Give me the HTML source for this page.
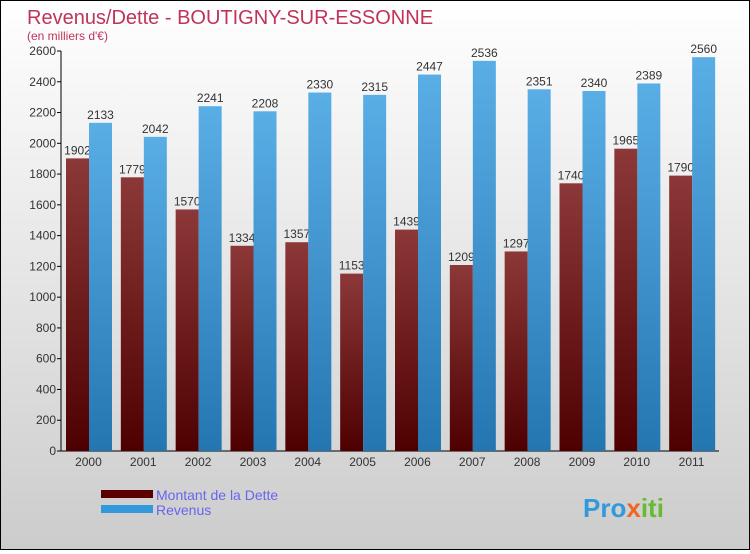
<!DOCTYPE html>
<html><head><meta charset="utf-8"><style>
body{margin:0;width:750px;height:550px;overflow:hidden;font-family:"Liberation Sans",sans-serif}
#c{position:absolute;left:0;top:0;width:748px;height:548px;border:1px solid #000;background:linear-gradient(#ffffff,#cccccc)}
</style></head><body>
<div id="c">
<svg id="s" width="748" height="548" xmlns="http://www.w3.org/2000/svg">
<defs>
<linearGradient id="gd" x1="0" y1="0" x2="0" y2="1"><stop offset="0" stop-color="#8c3838"/><stop offset="1" stop-color="#4e0000"/></linearGradient>
<linearGradient id="gr" x1="0" y1="0" x2="0" y2="1"><stop offset="0" stop-color="#5aaee6"/><stop offset="1" stop-color="#2476b0"/></linearGradient>
</defs>
<text x="26" y="23" font-size="20" fill="#c0335a">Revenus/Dette - BOUTIGNY-SUR-ESSONNE</text>
<text x="26" y="39" font-size="12" fill="#c0335a">(en milliers d'€)</text>
<g id="plot"></g>
<rect x="100" y="489" width="52" height="8" fill="#5a0000"/>
<rect x="100" y="504" width="52" height="8" fill="#3399dd"/>
<text x="155" y="499" font-size="14" fill="#6666ee">Montant de la Dette</text>
<text x="155" y="514" font-size="14" fill="#6666ee">Revenus</text>
<text x="582" y="516" font-size="26" font-weight="bold" fill="#3399dd">Pro<tspan fill="#ee6622">x</tspan><tspan fill="#66bb33">iti</tspan></text>
</svg></div>
<script>
const years=["2000","2001","2002","2003","2004","2005","2006","2007","2008","2009","2010","2011"];
const dette=[1902,1779,1570,1334,1357,1153,1439,1209,1297,1740,1965,1790];
const revenus=[2133,2042,2241,2208,2330,2315,2447,2536,2351,2340,2389,2560];
const ticks=[0,200,400,600,800,1000,1200,1400,1600,1800,2000,2200,2400,2600];
const NS="http://www.w3.org/2000/svg";
const g=document.getElementById('plot');
const x0=60,x1=718,y0=450,yTop=50,ymax=2600;
const y=v=>y0-v*(y0-yTop)/ymax;
const gw=(x1-x0)/years.length;
function mk(t,a){const e=document.createElementNS(NS,t);for(const k in a)e.setAttribute(k,a[k]);g.appendChild(e);return e;}
let ax=mk('line',{x1:x0,y1:yTop,x2:x0,y2:y0,stroke:'#000'});


let bx=mk('line',{x1:x0,y1:y0,x2:x1,y2:y0,stroke:'#000'});


ticks.forEach(t=>{
 const l=mk('line',{x1:x0-4,y1:y(t),x2:x0,y2:y(t),stroke:'#000'});
 
 
 const tx=mk('text',{x:x0-5,y:y(t)+4,'font-size':12,fill:'#333','text-anchor':'end'});
 tx.textContent=t;
 
 
});
years.forEach((yr,i)=>{
 const gx=x0+i*gw;
 const bd=mk('rect',{x:gx+5,y:y(dette[i]),width:23,height:y0-y(dette[i]),fill:'url(#gd)'});
 
 
 const ld=mk('text',{x:gx+16.5,y:y(dette[i])-4,'font-size':12,fill:'#333','text-anchor':'middle'});
 ld.textContent=dette[i];
 
 
});
years.forEach((yr,i)=>{
 const gx=x0+i*gw;
 const br=mk('rect',{x:gx+28,y:y(revenus[i]),width:23,height:y0-y(revenus[i]),fill:'url(#gr)'});
 
 
 const lr=mk('text',{x:gx+39.5,y:y(revenus[i])-4,'font-size':12,fill:'#333','text-anchor':'middle'});
 lr.textContent=revenus[i];
 
 
 const xl=mk('text',{x:gx+gw/2,y:465,'font-size':12,fill:'#333','text-anchor':'middle'});
 xl.textContent=yr;
 
 
});
</script>
</body></html>
